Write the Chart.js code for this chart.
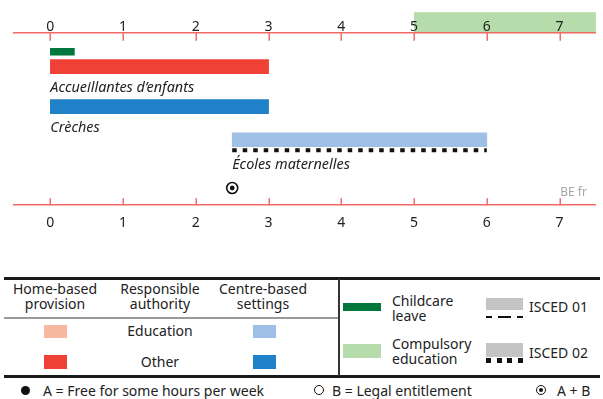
<!DOCTYPE html>
<html>
<head>
<meta charset="utf-8">
<script src="https://cdn.jsdelivr.net/npm/chart.js@4.4.1/dist/chart.umd.min.js"></script>
<style>
  body { margin: 0; background: #fff; font-family: 'Noto Sans', sans-serif; color: #222; }
  #wrap { position: relative; width: 603px; height: 399px; overflow: hidden; }
  #chartBox { position: absolute; left: 0; top: 0; width: 603px; height: 240px; }
  .a { position: absolute; }
  .t { position: absolute; font-size: 14px; line-height: 15px; white-space: nowrap; }
  .c { text-align: center; }
  .sw { position: absolute; }
</style>
</head>
<body>
<div id="wrap">
  <div id="chartBox"><canvas id="ageChart"></canvas></div>

  <!-- legend -->
  <div class="a" style="left:4px;top:277px;width:596px;height:3px;background:#1a1a1a"></div>
  <div class="a" style="left:4px;top:375px;width:596px;height:2.5px;background:#1a1a1a"></div>
  <div class="a" style="left:338px;top:279px;width:1.5px;height:97px;background:#333"></div>
  <div class="a" style="left:4px;top:317px;width:334px;height:1.5px;background:#999"></div>

  <div class="t c" style="left:0;top:281px;width:110px">Home-based<br>provision</div>
  <div class="t c" style="left:110px;top:281px;width:100px">Responsible<br>authority</div>
  <div class="t c" style="left:213px;top:281px;width:100px">Centre-based<br>settings</div>

  <div class="sw" style="left:44px;top:325px;width:23px;height:13px;background:#f8b7a1"></div>
  <div class="t c" style="left:110px;top:322.5px;width:100px">Education</div>
  <div class="sw" style="left:253px;top:325px;width:23px;height:13px;background:#9fbfe6"></div>
  <div class="sw" style="left:44px;top:355px;width:23px;height:14px;background:#ef4136"></div>
  <div class="t c" style="left:110px;top:353.5px;width:100px">Other</div>
  <div class="sw" style="left:253px;top:355px;width:23px;height:14px;background:#1f82c8"></div>

  <div class="sw" style="left:343px;top:303px;width:38px;height:8px;background:#00773c"></div>
  <div class="t" style="left:392px;top:292.5px">Childcare<br>leave</div>
  <div class="sw" style="left:343px;top:344px;width:38px;height:14px;background:#b6dcac"></div>
  <div class="t" style="left:392px;top:336px">Compulsory<br>education</div>

  <div class="sw" style="left:486px;top:298px;width:37px;height:12px;background:#c4c4c4"></div>
  <div class="sw" style="left:486px;top:315.5px;width:37px;height:2.5px;background:linear-gradient(to right,#111 0 6px,transparent 6px 12px,#111 12px 25px,transparent 25px 31px,#111 31px 37px)"></div>
  <div class="t" style="left:529px;top:298.5px">ISCED 01</div>
  <div class="sw" style="left:486px;top:343px;width:37px;height:14px;background:#c4c4c4"></div>
  <div class="sw" style="left:486px;top:358px;width:37px;height:4.5px;background:repeating-linear-gradient(to right,#111 0 5px,transparent 5px 10.7px)"></div>
  <div class="t" style="left:529px;top:344.5px">ISCED 02</div>

  <div class="sw" style="left:20.5px;top:385.5px;width:9px;height:9px;border-radius:50%;background:#111"></div>
  <div class="t" style="left:43px;top:382.5px">A = Free for some hours per week</div>
  <div class="sw" style="left:314px;top:385px;width:10px;height:10px;border-radius:50%;border:1.5px solid #111;box-sizing:border-box"></div>
  <div class="t" style="left:332px;top:382.5px">B = Legal entitlement</div>
  <div class="sw" style="left:536px;top:385px;width:10px;height:10px;border-radius:50%;border:1.5px solid #111;box-sizing:border-box"></div>
  <div class="sw" style="left:539px;top:388px;width:4px;height:4px;border-radius:50%;background:#111"></div>
  <div class="t" style="left:557px;top:382.5px">A + B</div>
</div>

<script>
// ages shown on the axes
const AGES = [0, 1, 2, 3, 4, 5, 6, 7];
const AGE_MIN = -0.5;
const AGE_MAX = 7.5;

// provision per setting, age from / to
const PROGRAMMES = ['Childcare leave', 'Accueillantes d’enfants', 'Crèches', 'Écoles maternelles'];
const PROGRAMME_AGES = [[0, 0.33], [0, 3], [0, 3], [2.5, 6]];
const PROGRAMME_ISCED = [null, null, null, '02'];

const COMPULSORY = [5, 7.5];
const ENTITLEMENT_A_B = [2.5];
const COUNTRY = 'BE fr';

const AXIS_RED = '#f06b66';
const BAR_COLORS = ['#00773c', '#ef4136', '#1f82c8', '#9fbfe6'];
const BAR_SIZE = [7, 14, 14, 14];
const SHOW_NAME = [false, true, true, true];
// lanes on the hidden vertical scale (0 = top)
const LANES = [2.8, 5.05, 11.1, 16.1];
const MARKER_LANE = 23.4;
const LANE_MAX = 26;

const tickFont = { family: 'Noto Sans', size: 14 };

const overlay = {
    id: 'overlay',
    beforeDraw(chart) {
        const { ctx, chartArea, scales: { x } } = chart;
        const x0 = x.getPixelForValue(COMPULSORY[0]);
        const x1 = x.getPixelForValue(COMPULSORY[1]);
        ctx.save();
        ctx.fillStyle = '#b6dcac';
        ctx.fillRect(x0, chartArea.top - 21, x1 - x0, 21);
        ctx.restore();
    },
    afterDatasetsDraw(chart) {
        const { ctx, chartArea, scales: { x } } = chart;
        ctx.save();

        // ticks pointing into the plot
        ctx.strokeStyle = AXIS_RED;
        ctx.lineWidth = 1.5;
        AGES.forEach(a => {
            const px = Math.round(x.getPixelForValue(a)) + 0.25;
            ctx.beginPath();
            ctx.moveTo(px, chartArea.top);
            ctx.lineTo(px, chartArea.top + 7.5);
            ctx.moveTo(px, chartArea.bottom);
            ctx.lineTo(px, chartArea.bottom - 7);
            ctx.stroke();
        });

        // ISCED line + setting names under the bars
        PROGRAMMES.forEach((name, i) => {
            const bar = chart.getDatasetMeta(i).data[0];
            if (!bar) return;
            const left = Math.min(bar.x, bar.base);
            const right = Math.max(bar.x, bar.base);
            const bottom = bar.y + bar.height / 2;
            let extra = 0;
            if (PROGRAMME_ISCED[i] === '02') {
                ctx.strokeStyle = '#111';
                ctx.lineWidth = 4;
                ctx.setLineDash([4.5, 6]);
                ctx.beginPath();
                ctx.moveTo(left, bottom + 3.5);
                ctx.lineTo(right, bottom + 3.5);
                ctx.stroke();
                ctx.setLineDash([]);
                extra = 3.5;
            }
            if (SHOW_NAME[i]) {
                ctx.fillStyle = '#222';
                ctx.font = 'italic 14.4px "Noto Sans"';
                ctx.textBaseline = 'alphabetic';
                ctx.textAlign = 'left';
                ctx.fillText(name, left, bottom + 18.5 + extra);
            }
        });

        ctx.fillStyle = '#a6a6a6';
        ctx.font = '12px "Noto Sans"';
        ctx.textAlign = 'right';
        ctx.textBaseline = 'alphabetic';
        ctx.fillText(COUNTRY, chartArea.right - 9, chartArea.bottom - 9);
        ctx.restore();
    }
};

function ageAxis(position, pad, crossAlign) {
    return {
        type: 'linear',
        axis: 'x',
        position: position,
        offset: false,
        min: AGE_MIN,
        max: AGE_MAX,
        afterBuildTicks: s => { s.ticks = AGES.map(v => ({ value: v })); },
        grid: { display: false, offset: false, drawTicks: false, tickLength: 0 },
        border: { color: AXIS_RED, width: 1.5 },
        ticks: { color: '#222', font: tickFont, padding: pad, crossAlign: crossAlign, maxRotation: 0, autoSkip: false }
    };
}

new Chart(document.getElementById('ageChart'), {
    type: 'bar',
    data: {
        datasets: [
            ...PROGRAMMES.map((name, i) => ({
                type: 'bar',
                label: name,
                indexAxis: 'y',
                grouped: false,
                xAxisID: 'x',
                yAxisID: 'y',
                data: [{ x: PROGRAMME_AGES[i], y: LANES[i] }],
                backgroundColor: BAR_COLORS[i],
                maxBarThickness: BAR_SIZE[i],
                barPercentage: 1,
                categoryPercentage: 1,
                borderWidth: 0
            })),
            {
                type: 'scatter',
                label: 'A + B dot',
                xAxisID: 'x',
                yAxisID: 'y',
                order: 0,
                data: ENTITLEMENT_A_B.map(a => ({ x: a, y: MARKER_LANE })),
                pointRadius: 2.4,
                pointBorderWidth: 0,
                pointBackgroundColor: '#111'
            },
            {
                type: 'scatter',
                label: 'A + B',
                xAxisID: 'x',
                yAxisID: 'y',
                order: 1,
                data: ENTITLEMENT_A_B.map(a => ({ x: a, y: MARKER_LANE })),
                pointRadius: 5.5,
                pointBorderWidth: 1.6,
                pointBorderColor: '#111',
                pointBackgroundColor: '#fff'
            }
        ]
    },
    options: {
        responsive: true,
        maintainAspectRatio: false,
        animation: false,
        layout: { padding: { left: 14, right: 6, top: 5, bottom: 0 } },
        plugins: { legend: { display: false }, tooltip: { enabled: false } },
        scales: {
            x: ageAxis('top', 5.7, 'center'),
            xb: ageAxis('bottom', 9, 'near'),
            y: {
                type: 'linear',
                display: false,
                offset: false,
                reverse: true,
                min: 0,
                max: LANE_MAX,
                grid: { offset: false },
                afterBuildTicks: s => { s.ticks = [{ value: 0 }, { value: LANE_MAX }]; }
            }
        }
    },
    plugins: [overlay]
});
</script>
</body>
</html>
